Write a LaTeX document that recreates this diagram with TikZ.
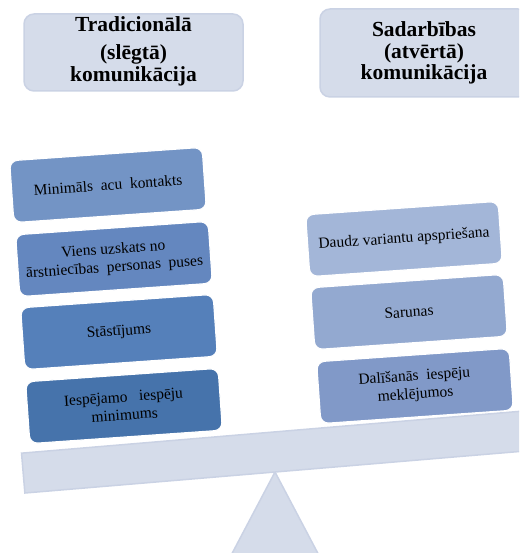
\documentclass[tikz,border=0pt]{standalone}
\usepackage{fontspec}
\setmainfont{Liberation Serif}
\definecolor{hdrfill}{HTML}{D5DCEA}
\definecolor{hdrline}{HTML}{CAD2E4}
\definecolor{lA}{HTML}{7394C5}
\definecolor{lB}{HTML}{6487BF}
\definecolor{lC}{HTML}{5580BA}
\definecolor{lD}{HTML}{4673AB}
\definecolor{rA}{HTML}{A3B6D8}
\definecolor{rB}{HTML}{93A9D0}
\definecolor{rC}{HTML}{8199C8}
\tikzset{
  header/.style={fill=hdrfill, draw=hdrline, line width=1.5pt, rounded corners=10pt,
    inner sep=0pt},
  headtext/.style={font=\fontsize{21.5}{21.5}\selectfont\bfseries, align=center},
  itembox/.style={draw=white, line width=1.2pt, rounded corners=8pt, rotate=4,
    minimum width=193pt, minimum height=62pt, align=center, inner sep=2pt,
    font=\fontsize{15.5}{18}\selectfont},
  beambox/.style={fill=hdrfill, draw=hdrline, line width=1.5pt, rotate=4.8,
    minimum width=502pt, minimum height=40pt, inner sep=0pt},
}
\begin{document}
\begin{tikzpicture}[x=1pt,y=1pt]
\useasboundingbox (0,0) rectangle (519,553);
\clip (0,0) rectangle (519,553);
% pivot
\coordinate (apex) at (275,81);
\coordinate (bl) at (227,-10);
\coordinate (br) at (323,-10);
\fill[hdrfill, draw=hdrline, line width=1.5pt] (apex) -- (bl) -- (br) -- cycle;
% beam
\node[beambox] (beam) at (273.3,100.9) {};
% headers
\node[header, minimum width=219pt, minimum height=77pt] (hl) at (133.5,500.5) {};
\node[headtext] (hlt) at (133.5,502) {Tradicionālā\\[7pt](slēgtā)\\komunikācija};
\node[header, minimum width=208pt, minimum height=88pt] (hr) at (424,500) {};
\node[headtext] (hrt) at (424,500) {Sadarbības\\(atvērtā)\\komunikācija};
% left items
\node[itembox, fill=lA] (b1) at (108,368) {Minimāls\ \ acu\ \ kontakts};
\node[itembox, fill=lB] (b2) at (114,294) {Viens uzskats no\\ārstniecības\ \ personas\ \ puses};
\node[itembox, fill=lC] (b3) at (119,221) {Stāstījums};
\node[itembox, fill=lD] (b4) at (124,147) {Iespējamo\ \ \ iespēju\\minimums};
% right items
\node[itembox, fill=rA] (r1) at (404,314) {Daudz variantu apspriešana};
\node[itembox, fill=rB] (r2) at (409,241) {Sarunas};
\node[itembox, fill=rC] (r3) at (415,167) {Dalīšanās\ \ iespēju\\meklējumos};
\end{tikzpicture}
\end{document}
